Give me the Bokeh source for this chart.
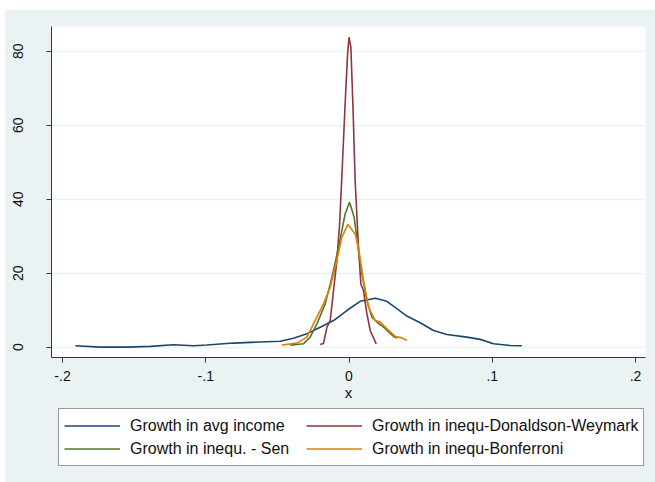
from bokeh.plotting import figure
from bokeh.models import Legend, LegendItem, FixedTicker, Range1d
from bokeh.layouts import column
from bokeh.embed import file_html
from bokeh.resources import INLINE

# Growth in avg income
avg_x = [-0.191, -0.1737, -0.155, -0.1388, -0.1225, -0.1085, -0.0992, -0.0806, -0.062, -0.048,
         -0.0387, -0.0294, -0.0201, -0.0108, -0.0015, 0.0078, 0.0183, 0.0264, 0.0334, 0.0404,
         0.0497, 0.059, 0.0683, 0.0823, 0.0916, 0.1009, 0.1125, 0.1207]
avg_y = [0.38, 0.0, 0.0, 0.2, 0.65, 0.38, 0.56, 1.1, 1.4, 1.6,
         2.4, 3.6, 5.4, 7.2, 9.9, 12.4, 13.2, 12.4, 10.4, 8.4,
         6.6, 4.5, 3.4, 2.7, 2.1, 0.9, 0.46, 0.37]

# Growth in inequ-Donaldson-Weymark
dw_x = [-0.0201, -0.0178, -0.0154, -0.0131, -0.0108, -0.0085, -0.0066, -0.005, -0.0027, -0.001,
        0.0, 0.0013, 0.0027, 0.0043, 0.0066, 0.0083, 0.0101, 0.0125, 0.0148, 0.019]
dw_y = [0.7, 1.0, 5.4, 7.2, 15.3, 23.4, 33.0, 46.0, 65.8, 79.3,
        83.8, 81.1, 65.8, 45.0, 27.0, 17.0, 15.3, 9.0, 4.5, 0.9]

# Growth in inequ. - Sen
sen_x = [-0.041, -0.0318, -0.0271, -0.0224, -0.0166, -0.0119, -0.0073, -0.0027, 0.0004,
         0.0036, 0.006, 0.009, 0.0125, 0.016, 0.0195, 0.0241, 0.0311, 0.0334]
sen_y = [0.55, 0.9, 2.7, 6.3, 11.7, 18.9, 27.0, 36.0, 39.2,
         35.1, 27.9, 19.8, 12.6, 8.1, 6.8, 5.4, 2.9, 2.5]

# Growth in inequ-Bonferroni
bon_x = [-0.0469, -0.0364, -0.0294, -0.0248, -0.0178, -0.0131, -0.0085, -0.005, -0.0008,
         0.0043, 0.0066, 0.0101, 0.0136, 0.0183, 0.0218, 0.0264, 0.0323, 0.0369, 0.0404]
bon_y = [0.55, 1.1, 2.7, 6.3, 11.7, 16.2, 23.4, 29.7, 33.2,
         30.6, 27.0, 18.0, 10.8, 7.2, 6.8, 5.0, 2.9, 2.5, 1.8]

labels = ["Growth in avg income", "Growth in inequ-Donaldson-Weymark",
          "Growth in inequ. - Sen", "Growth in inequ-Bonferroni"]
x_ticks = [-0.2, -0.1, 0.0, 0.1, 0.2]
x_tick_labels = ["-.2", "-.1", "0", ".1", ".2"]
y_ticks = [0, 20, 40, 60, 80]

BG = "#EAF2F3"
FONT = "Liberation Sans"
colors = ["#1A476F", "#90353B", "#55752F", "#E37E00"]
series = [(avg_x, avg_y), (dw_x, dw_y), (sen_x, sen_y), (bon_x, bon_y)]

p = figure(width=650, height=395, output_backend="svg", toolbar_location=None,
           x_range=Range1d(-0.2077, 0.207), y_range=Range1d(-2.8, 86.7),
           min_border_left=46, min_border_right=10, min_border_top=16, min_border_bottom=48)
p.background_fill_color = "white"
p.border_fill_color = BG
p.outline_line_color = None

p.xgrid.grid_line_color = None
p.ygrid.grid_line_color = BG
p.ygrid.grid_line_width = 1.5
p.ygrid.ticker = FixedTicker(ticks=y_ticks)

p.xaxis.ticker = FixedTicker(ticks=x_ticks)
p.xaxis.major_label_overrides = {t: l for t, l in zip(x_ticks, x_tick_labels)}
p.yaxis.ticker = FixedTicker(ticks=y_ticks)
p.xaxis.axis_label = "x"
p.yaxis.major_label_orientation = "vertical"

for ax in (p.xaxis, p.yaxis):
    ax.axis_line_color = "#333333"
    ax.major_tick_line_color = "#333333"
    ax.major_tick_out = 5
    ax.major_tick_in = 0
    ax.minor_tick_line_color = None
    ax.major_label_text_font = FONT
    ax.major_label_text_font_size = "14px"
    ax.major_label_text_color = "#111111"
    ax.axis_label_text_font = FONT
    ax.axis_label_text_font_size = "15px"
    ax.axis_label_text_font_style = "normal"
    ax.axis_label_text_color = "#111111"
p.xaxis.major_label_standoff = 8
p.xaxis.axis_label_standoff = 0
p.yaxis.major_label_standoff = 23

for (xs, ys), c in zip(series, colors):
    p.line(xs, ys, line_color=c, line_width=1.6)

# Legend strip below the chart (its frame is aligned with the chart's frame by the column)
pl = figure(width=650, height=77, output_backend="svg", toolbar_location=None,
            x_range=Range1d(-0.2077, 0.207), y_range=Range1d(100, 101),
            x_axis_type=None, y_axis_type=None,
            min_border_left=46, min_border_right=10, min_border_top=0, min_border_bottom=0)
pl.background_fill_color = BG
pl.border_fill_color = BG
pl.outline_line_color = None
pl.grid.grid_line_color = None

# key lines: same series, drawn outside this strip's visible y-range (only their legend glyphs show)
key = [pl.line(xs, ys, line_color=c, line_width=1.6) for (xs, ys), c in zip(series, colors)]

# Bokeh fills legend columns first: order items so rows read avg|DW, Sen|Bonferroni
legend = Legend(items=[LegendItem(label=labels[0], renderers=[key[0]]),
                       LegendItem(label=labels[2], renderers=[key[2]]),
                       LegendItem(label=labels[1], renderers=[key[1]]),
                       LegendItem(label=labels[3], renderers=[key[3]])],
                location=(7, 16), ncols=2)
legend.label_text_font = FONT
legend.label_text_font_size = "16px"
legend.label_text_color = "#111111"
legend.glyph_width = 56
legend.glyph_height = 23
legend.label_height = 23
legend.label_standoff = 10
legend.label_width = 176
legend.spacing = 0
legend.padding = 5
legend.margin = 0
legend.border_line_color = "#333333"
legend.border_line_width = 1
legend.background_fill_color = "white"
legend.background_fill_alpha = 1.0
pl.add_layout(legend, "center")

layout = column(p, pl, spacing=0, width=650, height=472)
layout.margin = (10, 0, 0, 5)
layout.styles = {"background-color": BG}
open("out.html", "w").write(file_html(layout, INLINE))
